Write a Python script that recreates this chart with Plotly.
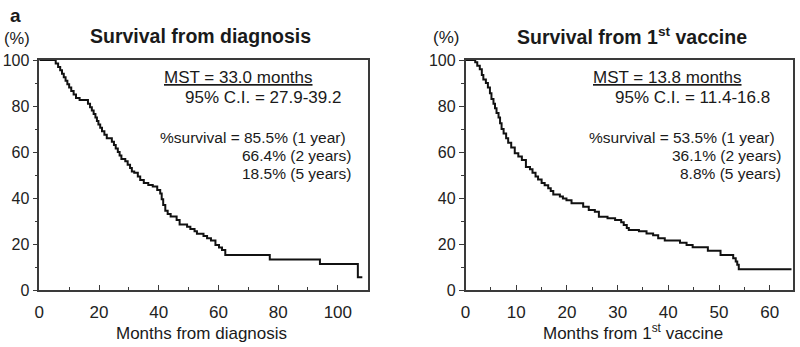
import plotly.graph_objects as go

# ---- Data ----
diag_months = [0, 5.5, 6.3, 7.0, 7.6, 8.2, 8.8, 9.4, 10.0, 10.7, 11.5, 12.3, 13.5,
               16.3, 17.0, 17.6, 18.2, 18.8, 19.3, 19.8, 20.4, 21.0, 21.8, 22.6, 24.3,
               25.0, 25.6, 26.3, 26.9, 27.5, 28.8, 29.6, 30.4, 31.0, 31.8, 33.0, 33.8,
               35.0, 36.5, 38.0, 39.5, 40.5, 41.0, 41.5, 42.2, 43.0, 44.0, 46.0, 47.0,
               49.5, 50.6, 52.0, 52.8, 55.0, 56.2, 57.5, 59.0, 60.2, 61.2, 62.3, 77.2,
               94.0, 106.7, 108.2]
diag_surv = [100, 98.5, 97, 95.5, 94, 92.5, 91, 89.5, 88, 86.5, 85, 83.5, 82.6,
             81, 79.5, 78, 76.5, 75, 73.5, 72, 70.5, 69, 67.5, 66, 64.5,
             63, 61.5, 60, 58.5, 57, 56, 54.5, 53, 51.5, 51, 49.3, 47.8,
             46.5, 45.7, 45, 43.5, 42, 39.5, 37, 34.5, 33, 32, 30.4, 28.5,
             27.5, 26.5, 25.5, 24.5, 23.5, 22.5, 21.5, 19.6, 18.5, 17.4, 15.2, 13.3,
             11.3, 5.5, 5.5]

vacc_months = [0, 1.9, 2.3, 2.8, 3.2, 3.5, 4.0, 4.4, 4.8, 5.1, 5.5, 5.8, 6.1, 6.5,
               6.8, 7.1, 7.5, 8.0, 8.4, 9.0, 9.7, 10.4, 11.1, 11.9, 12.7, 13.2, 13.8,
               14.3, 15.0, 15.6, 16.3, 16.8, 17.3, 18.6, 19.2, 19.9, 20.9, 23.2, 24.3,
               25.5, 26.3, 28.0, 29.5, 30.7, 31.2, 31.8, 32.2, 34.2, 35.7, 37.0, 38.0,
               39.3, 42.3, 43.6, 44.8, 47.8, 50.3, 52.8, 53.3, 53.6, 53.9, 64.3]
vacc_surv = [100, 99, 97.5, 96, 93.5, 91.5, 90, 88, 85.5, 83, 81, 79, 77, 75,
             72.5, 70, 68, 66, 64, 62, 59.5, 58, 56.5, 53.5, 52.5, 51, 49.3,
             48, 46.5, 45.5, 44.2, 43, 41.5, 40.6, 39.8, 39, 37.7, 36.2, 34.8,
             34, 31.9, 31.2, 30.4, 29.5, 28.3, 27, 26.1, 25.5, 24.6, 23.8, 22.5,
             21.5, 20.5, 19.6, 18.6, 17.1, 15.2, 13.8, 12.4, 11, 9.0, 9.0]

panel_titles = ["Survival from diagnosis", "Survival from 1<sup>st</sup> vaccine"]
x_titles = ["Months from diagnosis", "Months from 1<sup>st</sup> vaccine"]
mst_text = ["MST = 33.0 months", "MST = 13.8 months"]
ci_text = ["95% C.I. = 27.9-39.2", "95% C.I. = 11.4-16.8"]
surv_1y = ["%survival = 85.5% (1 year)", "%survival = 53.5% (1 year)"]
surv_2y = ["66.4% (2 years)", "36.1% (2 years)"]
surv_5y = ["18.5% (5 years)", "8.8% (5 years)"]
y_ticks = [0, 20, 40, 60, 80, 100]
x_ticks_left = [0, 20, 40, 60, 80, 100]
x_ticks_right = [0, 10, 20, 30, 40, 50, 60]

# ---- Layout helpers (pixels -> paper) ----
W, H = 800, 347
def px(x):
    return x / W
def py(y):
    return 1 - y / H

FONT = "Liberation Sans, Arial, Helvetica, sans-serif"
TXT = "#1a1a1a"
AX = "#3a3a3a"

fig = go.Figure()
fig.add_trace(go.Scatter(x=diag_months, y=diag_surv, mode="lines", line_shape="hv",
                         line=dict(color="#111111", width=2), xaxis="x", yaxis="y",
                         showlegend=False, hoverinfo="skip"))
fig.add_trace(go.Scatter(x=vacc_months, y=vacc_surv, mode="lines", line_shape="hv",
                         line=dict(color="#111111", width=2), xaxis="x2", yaxis="y2",
                         showlegend=False, hoverinfo="skip"))

base_axis = dict(showline=True, linecolor=AX, linewidth=1.5, mirror=True,
                 ticklen=5, tickwidth=1.3, tickcolor=AX,
                 showgrid=False, zeroline=False, automargin=False)
x_axis = dict(ticks="inside", ticklabelstandoff=6,
              tickfont=dict(family=FONT, size=17, color="#222222"), **base_axis)
y_axis = dict(ticks="outside", ticklabelstandoff=0,
              tickfont=dict(family=FONT, size=16, color="#222222"), **base_axis)

y_minor = dict(tickvals=[10, 30, 50, 70, 90], ticks="outside", ticklen=3,
               tickcolor=AX, tickwidth=1.2)

ydom = [py(290), py(60)]
fig.update_layout(
    width=W, height=H,
    margin=dict(l=0, r=0, t=0, b=0, autoexpand=False),
    paper_bgcolor="white", plot_bgcolor="white",
    xaxis=dict(domain=[px(39.3), px(367.7)], range=[0, 110], anchor="y",
               tickvals=x_ticks_left,
               minor=dict(tickvals=[10, 30, 50, 70, 90], ticks="inside", ticklen=3,
                          tickcolor=AX, tickwidth=1.2),
               **x_axis),
    yaxis=dict(domain=ydom, range=[0, 100], anchor="x", tickvals=y_ticks,
               minor=y_minor, **y_axis),
    xaxis2=dict(domain=[px(465.6), px(793)], range=[0, 64.6], anchor="y2",
                tickvals=x_ticks_right,
                minor=dict(tickvals=[5, 15, 25, 35, 45, 55], ticks="inside", ticklen=3,
                           tickcolor=AX, tickwidth=1.2),
                **x_axis),
    yaxis2=dict(domain=ydom, range=[0, 100], anchor="x2", tickvals=y_ticks,
                minor=y_minor, **y_axis),
)

def ann(text, x, y, size, xanchor="center", bold=False):
    if bold:
        text = "<b>" + text + "</b>"
    fig.add_annotation(text=text, x=px(x), y=py(y), xref="paper", yref="paper",
                       xanchor=xanchor, yanchor="middle", showarrow=False,
                       font=dict(family=FONT, size=size, color=TXT))

ann("a", 15.5, 15.5, 19, bold=True)
ann("(%)", 16.7, 37.5, 16.5)
ann("(%)", 445.8, 37.5, 17)
ann(panel_titles[0], 200, 36.5, 19.5, bold=True)
ann(panel_titles[1], 631.7, 36.5, 19.5, bold=True)
ann(x_titles[0], 201.7, 333, 17)
ann(x_titles[1], 632.5, 332, 17)

# left panel texts
ann("<u>" + mst_text[0] + "</u>", 162.3, 77.5, 17, "left")
ann(ci_text[0], 342.7, 97.3, 17, "right")
ann(surv_1y[0], 348, 137, 15.5, "right")
ann(surv_2y[0], 353, 155, 15.5, "right")
ann(surv_5y[0], 353, 173, 15.5, "right")
# right panel texts
ann("<u>" + mst_text[1] + "</u>", 591, 77.5, 17, "left")
ann(ci_text[1], 771.7, 97.3, 17, "right")
ann(surv_1y[1], 776.7, 137, 15.5, "right")
ann(surv_2y[1], 783.3, 155, 15.5, "right")
ann(surv_5y[1], 783.3, 173, 15.5, "right")

fig.write_html("out.html")
